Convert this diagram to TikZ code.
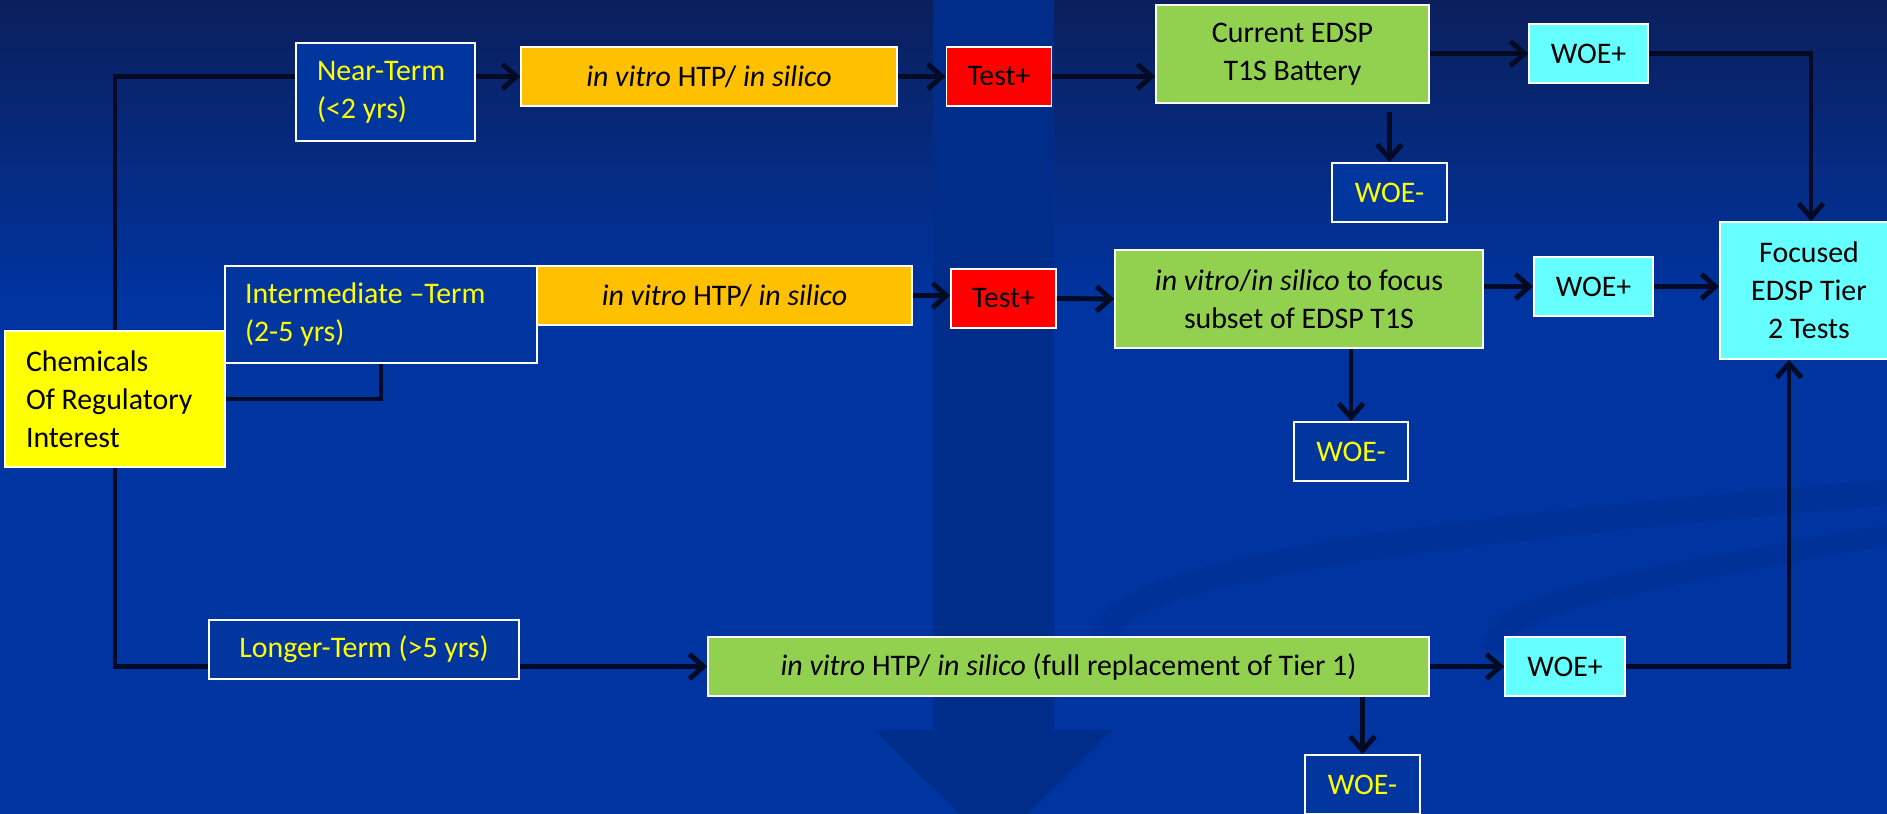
\documentclass[tikz,border=0pt]{standalone}
\usepackage{fontspec}
\setmainfont{Carlito}
\usetikzlibrary{arrows.meta}
\definecolor{bgblue}{HTML}{0034A0}
\definecolor{bgtop}{HTML}{0B1F5C}
\definecolor{bandblue}{HTML}{002C8A}
\definecolor{boxblue}{HTML}{00369E}
\definecolor{termyellow}{HTML}{FFFF00}
\definecolor{htporange}{HTML}{FFC000}
\definecolor{testred}{HTML}{FF0000}
\definecolor{edspgreen}{HTML}{92D050}
\definecolor{woecyan}{HTML}{66FFFF}
\definecolor{linkdark}{HTML}{020A24}

\begin{document}
\begin{tikzpicture}[x=0.02cm,y=-0.02cm,
  every node/.style={font=\fontsize{17}{21.6}\selectfont},
  box/.style={draw=white, line width=0.9pt, inner sep=0pt, minimum height=1.18cm},
  termbox/.style={box, fill=boxblue, text=termyellow},
  htpbox/.style={box, fill=htporange},
  testbox/.style={box, fill=testred, minimum width=2.1cm},
  greenbox/.style={box, fill=edspgreen},
  woebox/.style={box, fill=woecyan, minimum width=2.38cm},
  link/.style={line width=2.8pt, draw=linkdark},
  arr/.style={link, -{Straight Barb[length=8pt,width=14pt]}}]
  \useasboundingbox (0,0) rectangle (1887,814);
  \clip (0,0) rectangle (1887,814);
  % background
  \fill[bgblue] (0,0) rectangle (1887,814);
  \shade[top color=bgtop, bottom color=bgblue] (0,0) rectangle (1887,300);
  \fill[bandblue] (933,0) rectangle (1054,730);
  \fill[bandblue] (875,730) -- (1112,730) -- (993.5,848) -- cycle;
  \fill[bandblue, opacity=0.3] (1090,640) .. controls (1088,560) and (1400,520) .. (1887,480)
    -- (1887,505) .. controls (1420,545) and (1122,585) .. (1118,640) -- cycle;
  \fill[bandblue, opacity=0.3] (1483,650) .. controls (1480,600) and (1560,580) .. (1887,525)
    -- (1887,545) .. controls (1580,600) and (1507,620) .. (1505,650) -- cycle;

  % start
  \node[box, fill=termyellow, minimum width=4.4cm, minimum height=2.72cm, text width=3.56cm, align=flush left] (chem) at (115,399) {Chemicals\\Of Regulatory\\Interest};

  % near-term row
  \node[termbox, minimum width=3.58cm, minimum height=1.96cm, text width=2.74cm, align=flush left] (near) at (385.5,92) {Near-Term\\(<2 yrs)};
  \node[htpbox, minimum width=7.52cm] (vitro1) at (709,76.5) {\textit{in vitro} HTP/ \textit{in silico}};
  \node[testbox] (test1) at (999,76.5) {Test+};
  \node[greenbox, minimum width=5.46cm, minimum height=1.96cm, align=center] (edsp) at (1292.5,54) {Current EDSP\\T1S Battery};
  \node[woebox] (woep1) at (1588.5,53.5) {WOE+};
  \node[termbox, minimum width=2.3cm] (woem1) at (1389.5,192.5) {WOE-};

  % intermediate row
  \node[termbox, minimum width=6.24cm, minimum height=1.94cm, text width=5.44cm, align=flush left] (inter) at (381,314.5) {Intermediate --Term\\(2-5 yrs)};
  \node[htpbox, minimum width=7.5cm] (vitro2) at (724.5,295.5) {\textit{in vitro} HTP/ \textit{in silico}};
  \node[testbox] (test2) at (1003.5,298.5) {Test+};
  \node[greenbox, minimum width=7.36cm, minimum height=1.96cm, align=center] (focus2) at (1299,299) {\textit{in vitro}/\textit{in silico} to focus\\subset of EDSP T1S};
  \node[woebox] (woep2) at (1593.5,286.5) {WOE+};
  \node[termbox, minimum width=2.28cm] (woem2) at (1351,451.5) {WOE-};
  \node[box, fill=woecyan, minimum width=3.56cm, minimum height=2.74cm, align=center] (tier2) at (1809,290.5) {Focused\\EDSP Tier\\2 Tests};

  % longer-term row
  \node[termbox, minimum width=6.2cm] (longer) at (364,649.5) {Longer-Term (>5 yrs)};
  \node[greenbox, minimum width=14.42cm] (full) at (1068.5,666.5) {\textit{in vitro} HTP/ \textit{in silico} (full replacement of Tier 1)};
  \node[woebox, minimum width=2.4cm] (woep3) at (1565,666.5) {WOE+};
  \node[termbox, minimum width=2.3cm] (woem3) at (1362.5,784.5) {WOE-};

  % connectors
  \draw[link] (chem.north) |- (near.west |- vitro1.west);
  \draw[arr] (near.east |- vitro1.west) -- (vitro1.west);
  \draw[arr] (vitro1.east) -- (test1.west);
  \draw[arr] (test1.east) -- (test1.east -| edsp.west);
  \draw[arr] (edsp.east |- woep1.west) -- (woep1.west);
  \draw[arr] (woep1.east) -| ([xshift=0.04cm]tier2.north);
  \draw[arr, shorten <=0.16cm] (woem1.north |- edsp.south) -- (woem1.north);

  \draw[link] (chem.east) -| (inter.south);
  \draw[arr] (vitro2.east) -- (vitro2.east -| test2.west);
  \draw[arr] (test2.east) -- (focus2.west);
  \draw[arr] (woep2.west -| focus2.east) -- (woep2.west);
  \draw[arr] (woep2.east) -- (woep2.east -| tier2.west);
  \draw[arr] (woem2.north |- focus2.south) -- (woem2.north);

  \draw[link] (chem.south) |- (longer.west |- full.west);
  \draw[arr] (longer.east |- full.west) -- (full.west);
  \draw[arr] (full.east) -- (woep3.west);
  \draw[arr] (woep3.east) -| ([xshift=-0.4cm]tier2.south);
  \draw[arr] (woem3.north |- full.south) -- (woem3.north);
\end{tikzpicture}
\end{document}
